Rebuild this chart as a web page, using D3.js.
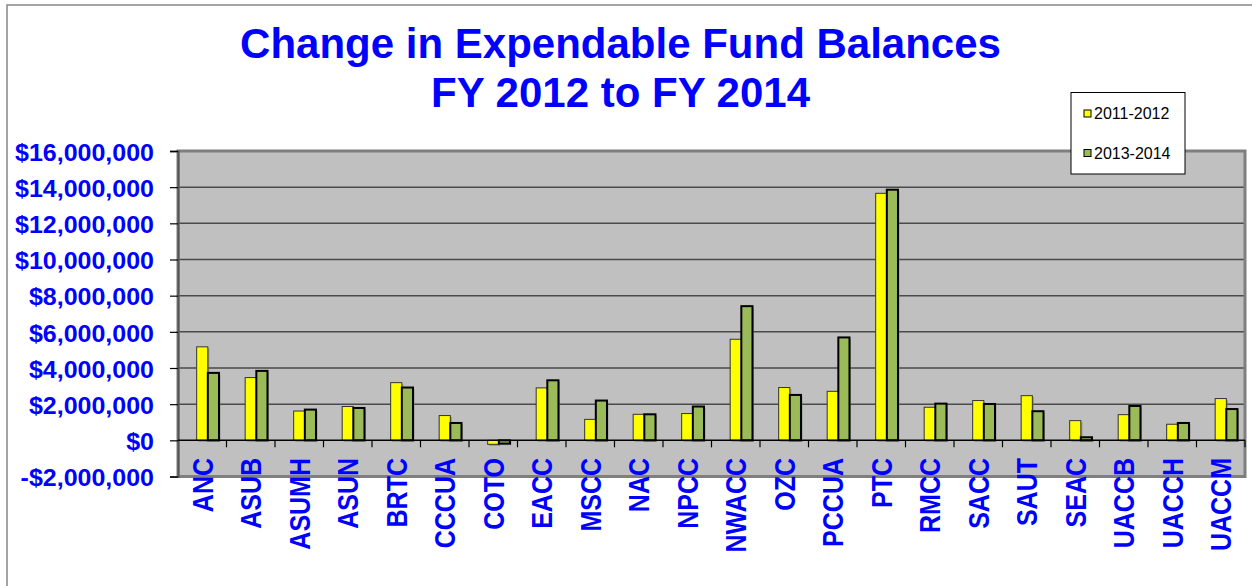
<!DOCTYPE html>
<html>
<head>
<meta charset="utf-8">
<script src="https://cdn.jsdelivr.net/npm/d3@7"></script>
<style>
  html, body { margin: 0; padding: 0; background: #fff; }
  svg { display: block; font-family: Arial, "Liberation Sans", sans-serif; }
</style>
</head>
<body>
<svg id="chart" width="1252" height="586"></svg>
<script>
// Colleges / campuses
const categories = ["ANC", "ASUB", "ASUMH", "ASUN", "BRTC", "CCCUA", "COTO", "EACC", "MSCC", "NAC", "NPCC",
  "NWACC", "OZC", "PCCUA", "PTC", "RMCC", "SACC", "SAUT", "SEAC", "UACCB", "UACCH", "UACCM"];

// Expendable fund balances, dollars
const balances2011_2012 = [5170000, 3470000, 1620000, 1870000, 3190000, 1370000, -220000, 2900000, 1160000, 1440000, 1480000,
  5590000, 2920000, 2710000, 13660000, 1830000, 2200000, 2470000, 1090000, 1420000, 890000, 2310000];
const balances2013_2014 = [3730000, 3840000, 1700000, 1790000, 2920000, 960000, -180000, 3320000, 2200000, 1440000, 1870000,
  7420000, 2510000, 5690000, 13860000, 2030000, 2010000, 1610000, 170000, 1900000, 960000, 1730000];

const seriesNames = ["2011-2012", "2013-2014"];
const seriesColors = ["#FFFF00", "#9BBB59"];

// Value axis ticks
const yTickValues = [-2000000, 0, 2000000, 4000000, 6000000, 8000000, 10000000, 12000000, 14000000, 16000000];
const yTickLabels = ["-$2,000,000", "$0", "$2,000,000", "$4,000,000", "$6,000,000", "$8,000,000",
  "$10,000,000", "$12,000,000", "$14,000,000", "$16,000,000"];

const titleLines = ["Change in Expendable Fund Balances", "FY 2012 to FY 2014"];

const svg = d3.select("#chart");
const BLUE = "#0000FF";

// Outer chart frame
svg.append("rect").attr("x", 7).attr("y", 5).attr("width", 1300).attr("height", 700)
  .attr("fill", "#fff").attr("stroke", "#888").attr("stroke-width", 1.5);

const plot = { left: 178, right: 1245, top: 151, bottom: 476.5 };

const x = d3.scaleBand().domain(categories).range([plot.left, plot.right]).paddingInner(0).paddingOuter(0);
const y = d3.scaleLinear().domain([-2000000, 16000000]).range([plot.bottom, plot.top]);
const bw = x.bandwidth();
const inner = d3.scaleBand().domain(seriesNames).range([0.385 * bw, 0.845 * bw]);

// Plot background
svg.append("rect").attr("x", plot.left).attr("y", plot.top)
  .attr("width", plot.right - plot.left).attr("height", plot.bottom - plot.top)
  .attr("fill", "#C0C0C0");

// Horizontal gridlines
svg.append("g").selectAll("line").data(yTickValues.filter(v => v !== 0)).join("line")
  .attr("x1", plot.left).attr("x2", plot.right)
  .attr("y1", d => y(d)).attr("y2", d => y(d))
  .attr("stroke", "#4a4a4a").attr("stroke-width", 1.5);

// Plot frame
svg.append("rect").attr("x", plot.left).attr("y", plot.top)
  .attr("width", plot.right - plot.left).attr("height", plot.bottom - plot.top)
  .attr("fill", "none").attr("stroke", "#7f7f7f").attr("stroke-width", 3);

// Bars
const rows = categories.map((c, i) => ({ c, vals: [balances2011_2012[i], balances2013_2014[i]] }));
const groups = svg.append("g").selectAll("g").data(rows).join("g")
  .attr("transform", d => `translate(${x(d.c)},0)`);

const barData = d => d.vals.map((v, k) => ({ v, k, s: seriesNames[k] }));

// drop shadows
groups.selectAll("rect.shadow").data(barData).join("rect").attr("class", "shadow")
  .attr("x", d => inner(d.s) + 1.5)
  .attr("y", d => Math.min(y(d.v), y(0)) + 1.5)
  .attr("width", inner.bandwidth())
  .attr("height", d => Math.abs(y(d.v) - y(0)))
  .attr("fill", "#6e6e6e").attr("opacity", 0.55);

groups.selectAll("rect.bar").data(barData).join("rect").attr("class", "bar")
  .attr("x", d => inner(d.s))
  .attr("y", d => Math.min(y(d.v), y(0)))
  .attr("width", inner.bandwidth())
  .attr("height", d => Math.abs(y(d.v) - y(0)))
  .attr("fill", d => seriesColors[d.k])
  .attr("stroke", d => d.k === 0 ? "#333" : "#000")
  .attr("stroke-width", d => d.k === 0 ? 1 : 2);

// Value axis
const yAxis = d3.axisLeft(y).tickValues(yTickValues).tickSize(8)
  .tickFormat(d => yTickLabels[yTickValues.indexOf(d)]);
const yg = svg.append("g").attr("transform", `translate(${plot.left},0)`).call(yAxis);
yg.select(".domain").attr("stroke", "#555").attr("stroke-width", 2);
yg.selectAll(".tick line").attr("stroke", "#000").attr("stroke-width", 1.2);
yg.selectAll(".tick text")
  .attr("x", -24).attr("y", 1).attr("dy", "0.36em")
  .attr("fill", BLUE).attr("font-size", 25).attr("font-weight", "bold")
  .attr("font-family", "Arial, 'Liberation Sans', sans-serif")
  .attr("transform", "scale(1,0.92)");

// Category axis at zero
const x0 = y(0);
svg.append("line").attr("x1", plot.left).attr("x2", plot.right).attr("y1", x0).attr("y2", x0)
  .attr("stroke", "#000").attr("stroke-width", 1.5);
svg.append("g").selectAll("line").data(categories.slice(1).concat([null])).join("line")
  .attr("x1", d => d === null ? plot.right : x(d)).attr("x2", d => d === null ? plot.right : x(d))
  .attr("y1", x0).attr("y2", x0 + 7)
  .attr("stroke", "#000").attr("stroke-width", 1.2);

// Category labels (rotated)
svg.append("g").selectAll("text").data(categories).join("text")
  .attr("transform", d => `translate(${x(d) + bw / 2 + 10.5},458) rotate(-90) scale(1,1.15)`)
  .attr("text-anchor", "end")
  .attr("fill", BLUE).attr("font-size", 25).attr("font-weight", "bold")
  .text(d => d);

// Title
svg.append("g").selectAll("text").data(titleLines).join("text")
  .attr("x", 620.5).attr("y", (d, i) => 58 + i * 48.5)
  .attr("text-anchor", "middle")
  .attr("fill", BLUE).attr("font-size", 42).attr("font-weight", "bold")
  .text(d => d);

// Legend
const lg = svg.append("g");
lg.append("rect").attr("x", 1071).attr("y", 92.5).attr("width", 114).attr("height", 81.5)
  .attr("fill", "#fff").attr("stroke", "#000").attr("stroke-width", 1);
const items = lg.selectAll("g").data(seriesNames).join("g")
  .attr("transform", (d, i) => `translate(1084,${113.5 + i * 39.5})`);
items.append("rect").attr("x", 0).attr("y", -3.5).attr("width", 7).attr("height", 7)
  .attr("fill", (d, i) => seriesColors[i]).attr("stroke", "#000").attr("stroke-width", 1);
items.append("text").attr("x", 10).attr("y", 5.5)
  .attr("font-size", 16).attr("fill", "#000").text(d => d);
</script>
</body>
</html>
